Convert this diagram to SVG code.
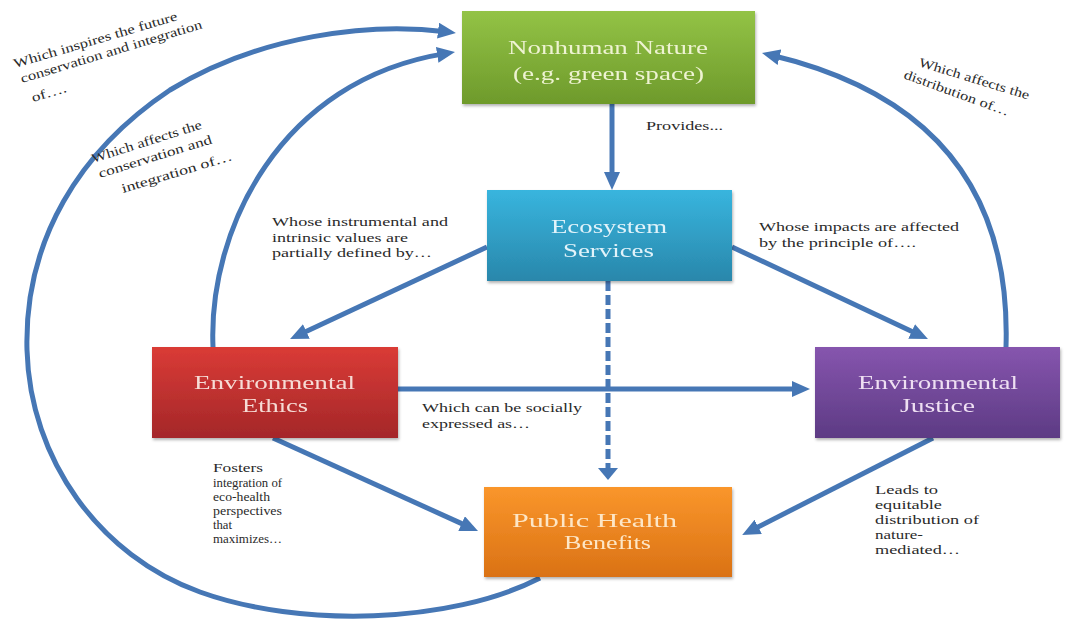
<svg xmlns="http://www.w3.org/2000/svg" width="1065" height="619" viewBox="0 0 1065 619">
<style>
.box{filter:url(#sh)}
.bt{font-family:"Liberation Serif",serif;font-size:19.5px;text-anchor:start}
.lb{font-family:"Liberation Serif",serif;font-size:13px;fill:#2a2a2a}
.cn{fill:none;stroke:#4677b5;stroke-width:5}
</style>
<defs>
<filter id="sh" x="-10%" y="-10%" width="125%" height="130%">
<feDropShadow dx="1" dy="2" stdDeviation="1.5" flood-color="#000" flood-opacity="0.3"/>
</filter>
<linearGradient id="gG" x1="0" y1="0" x2="0" y2="1"><stop offset="0" stop-color="#93c346"/><stop offset="1" stop-color="#6e9a2b"/></linearGradient>
<linearGradient id="gB" x1="0" y1="0" x2="0" y2="1"><stop offset="0" stop-color="#38b5de"/><stop offset="1" stop-color="#2987ab"/></linearGradient>
<linearGradient id="gR" x1="0" y1="0" x2="0" y2="1"><stop offset="0" stop-color="#da3b36"/><stop offset="1" stop-color="#a42729"/></linearGradient>
<linearGradient id="gP" x1="0" y1="0" x2="0" y2="1"><stop offset="0" stop-color="#8655ae"/><stop offset="1" stop-color="#5d3b84"/></linearGradient>
<linearGradient id="gO" x1="0" y1="0" x2="0" y2="1"><stop offset="0" stop-color="#fa962b"/><stop offset="1" stop-color="#da7215"/></linearGradient>
<marker id="ah" viewBox="0 0 18 16" markerWidth="18" markerHeight="16" markerUnits="userSpaceOnUse" refX="8" refY="8" orient="auto">
<path d="M0,0 L18,8 L0,16 Z" fill="#4677b5"/>
</marker>
<marker id="ahd" viewBox="0 0 12 20" markerWidth="12" markerHeight="20" markerUnits="userSpaceOnUse" refX="4" refY="10" orient="auto">
<path d="M0,0 L12,10 L0,20 Z" fill="#4677b5"/>
</marker>
</defs>
<rect width="1065" height="619" fill="#ffffff"/>

<g id="connectors">
<line class="cn" x1="612" y1="104" x2="612" y2="180" marker-end="url(#ah)"/>
<line class="cn" x1="487" y1="247" x2="299.1" y2="334.8" marker-end="url(#ah)"/>
<line class="cn" x1="732" y1="247" x2="918.9" y2="334.8" marker-end="url(#ah)"/>
<line class="cn" x1="398" y1="389" x2="800" y2="389" stroke-width="4" marker-end="url(#ah)"/>
<line class="cn" x1="608" y1="281" x2="608" y2="472" stroke-width="6" stroke-dasharray="10,4" marker-end="url(#ahd)"/>
<line class="cn" x1="273" y1="438" x2="468.9" y2="526.9" marker-end="url(#ah)"/>
<line class="cn" x1="933" y1="438" x2="751.1" y2="530.5" marker-end="url(#ah)"/>
<path class="cn" d="M540,578 C450,624 300,628 200,592 C100,556 30,460 27,350 C24,240 80,150 170,90 C260,35 370,22 446,31.7" marker-end="url(#ah)"/>
<path class="cn" d="M213,347 C208,230 280,80 445.1,53.6" marker-end="url(#ah)"/>
<path class="cn" d="M1006,347 C1010,220 960,100 771.7,55.3" marker-end="url(#ah)"/>
</g>

<g id="labels">
<text class="lb" x="646" y="130" textLength="77" lengthAdjust="spacingAndGlyphs">Provides...</text>
<text class="lb" x="272" y="226" textLength="176" lengthAdjust="spacingAndGlyphs">Whose instrumental and</text>
<text class="lb" x="272" y="242" textLength="136" lengthAdjust="spacingAndGlyphs">intrinsic values are</text>
<text class="lb" x="272" y="257" textLength="160" lengthAdjust="spacingAndGlyphs">partially defined by…</text>
<text class="lb" x="759" y="231" textLength="200" lengthAdjust="spacingAndGlyphs">Whose impacts are affected</text>
<text class="lb" x="759" y="247" textLength="157" lengthAdjust="spacingAndGlyphs">by the principle of….</text>
<text class="lb" x="422" y="412" textLength="160" lengthAdjust="spacingAndGlyphs">Which can be socially</text>
<text class="lb" x="422" y="428" textLength="108" lengthAdjust="spacingAndGlyphs">expressed as…</text>
<text class="lb" x="213" y="472" textLength="50" lengthAdjust="spacingAndGlyphs">Fosters</text>
<text class="lb" x="213" y="487" textLength="69" lengthAdjust="spacingAndGlyphs">integration of</text>
<text class="lb" x="213" y="501" textLength="57" lengthAdjust="spacingAndGlyphs">eco-health</text>
<text class="lb" x="213" y="515" textLength="69" lengthAdjust="spacingAndGlyphs">perspectives</text>
<text class="lb" x="213" y="529" textLength="19" lengthAdjust="spacingAndGlyphs">that</text>
<text class="lb" x="213" y="543" textLength="69" lengthAdjust="spacingAndGlyphs">maximizes…</text>
<text class="lb" x="875" y="494" textLength="63" lengthAdjust="spacingAndGlyphs">Leads to</text>
<text class="lb" x="875" y="509" textLength="67" lengthAdjust="spacingAndGlyphs">equitable</text>
<text class="lb" x="875" y="524" textLength="104" lengthAdjust="spacingAndGlyphs">distribution of</text>
<text class="lb" x="875" y="539" textLength="48" lengthAdjust="spacingAndGlyphs">nature-</text>
<text class="lb" x="875" y="554" textLength="85" lengthAdjust="spacingAndGlyphs">mediated…</text>
<text class="lb" transform="translate(15,68) rotate(-16.4)" textLength="170" lengthAdjust="spacingAndGlyphs">Which inspires the future</text>
<text class="lb" transform="translate(22,83) rotate(-16.9)" textLength="189" lengthAdjust="spacingAndGlyphs">conservation and integration</text>
<text class="lb" transform="translate(33,102) rotate(-16.5)" textLength="36" lengthAdjust="spacingAndGlyphs">of….</text>
<text class="lb" transform="translate(93,163) rotate(-17.6)" textLength="115" lengthAdjust="spacingAndGlyphs">Which affects the</text>
<text class="lb" transform="translate(100,178) rotate(-17.2)" textLength="118" lengthAdjust="spacingAndGlyphs">conservation and</text>
<text class="lb" transform="translate(123,193) rotate(-16.8)" textLength="115" lengthAdjust="spacingAndGlyphs">integration of…</text>
<text class="lb" transform="translate(918,66) rotate(17)" textLength="115" lengthAdjust="spacingAndGlyphs">Which affects the</text>
<text class="lb" transform="translate(903,78) rotate(20)" textLength="111" lengthAdjust="spacingAndGlyphs">distribution of…</text>
</g>

<g id="nonhuman-nature" class="box">
<rect x="462" y="11" width="293" height="93" fill="url(#gG)"/>
<text class="bt" x="508" y="54" fill="#eef3d2" textLength="200" lengthAdjust="spacingAndGlyphs">Nonhuman Nature</text>
<text class="bt" x="513" y="80" fill="#eef3d2" textLength="191" lengthAdjust="spacingAndGlyphs">(e.g. green space)</text>
</g>
<g id="ecosystem-services" class="box">
<rect x="487" y="190" width="245" height="91" fill="url(#gB)"/>
<text class="bt" x="551" y="233" fill="#e2f3fa" textLength="116" lengthAdjust="spacingAndGlyphs">Ecosystem</text>
<text class="bt" x="563" y="257" fill="#e2f3fa" textLength="91" lengthAdjust="spacingAndGlyphs">Services</text>
</g>
<g id="environmental-ethics" class="box">
<rect x="152" y="347" width="246" height="91" fill="url(#gR)"/>
<text class="bt" x="194" y="389" fill="#f6dcd6" textLength="161" lengthAdjust="spacingAndGlyphs">Environmental</text>
<text class="bt" x="242" y="412" fill="#f6dcd6" textLength="66" lengthAdjust="spacingAndGlyphs">Ethics</text>
</g>
<g id="environmental-justice" class="box">
<rect x="815" y="347" width="245" height="91" fill="url(#gP)"/>
<text class="bt" x="858" y="389" fill="#eedff2" textLength="160" lengthAdjust="spacingAndGlyphs">Environmental</text>
<text class="bt" x="900" y="412" fill="#eedff2" textLength="75" lengthAdjust="spacingAndGlyphs">Justice</text>
</g>
<g id="public-health-benefits" class="box">
<rect x="484" y="487" width="248" height="90" fill="url(#gO)"/>
<text class="bt" x="512" y="527" fill="#fde6c6" textLength="165" lengthAdjust="spacingAndGlyphs">Public Health</text>
<text class="bt" x="564" y="549" fill="#fde6c6" textLength="87" lengthAdjust="spacingAndGlyphs">Benefits</text>
</g>
</svg>
